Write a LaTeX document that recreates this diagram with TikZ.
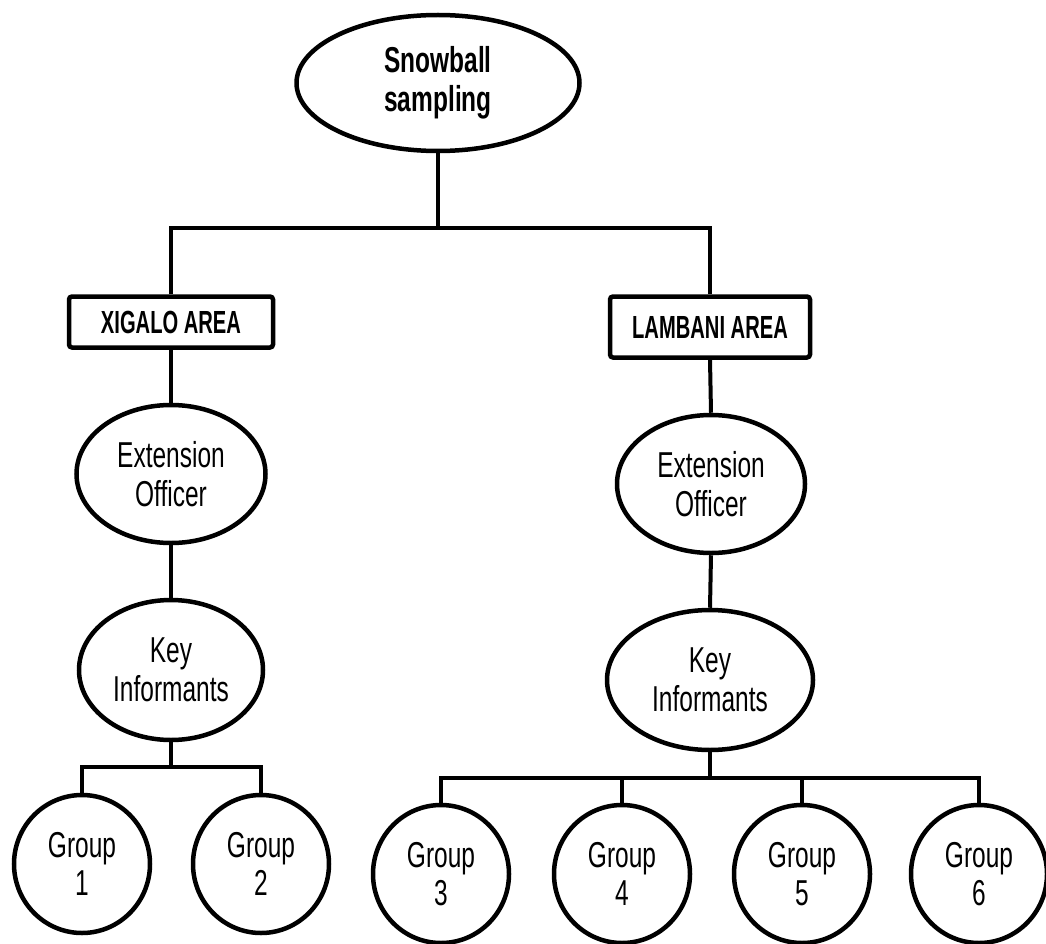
\documentclass[tikz,border=0pt]{standalone}
\usepackage{fontspec}
\setmainfont{Liberation Sans}[FakeStretch=0.68]
\newfontfamily\boxfont{Liberation Sans}[FakeStretch=0.63]
\usetikzlibrary{shapes.geometric}

\tikzset{
  conn/.style={line width=4pt},
  oval/.style={ellipse, draw, line width=4.5pt, align=center, inner sep=0pt,
    font=\fontsize{36}{38.5}\selectfont},
  areabox/.style={rectangle, draw, line width=4.5pt, rounded corners=3pt,
    inner sep=0pt, font=\boxfont\bfseries\fontsize{32}{36}\selectfont},
  grp/.style={oval, minimum width=136pt, minimum height=138pt}
}

\begin{document}
\begin{tikzpicture}[x=1pt, y=-1pt]
  \useasboundingbox (0,0) rectangle (1046,944);

  % root
  \node[oval, minimum width=283pt, minimum height=136pt,
        font=\bfseries\fontsize{36}{38.5}\selectfont] (snow) at (438,83) {Snowball\\sampling};

  % the two study areas
  \node[areabox, minimum width=204pt, minimum height=51pt] (xig) at (171,322) {XIGALO AREA};
  \node[areabox, minimum width=200pt, minimum height=61pt] (lam) at (710,327) {LAMBANI AREA};

  % Xigalo branch
  \node[oval, minimum width=189pt, minimum height=138pt] (ext1) at (171,474) {Extension\\Officer};
  \node[oval, minimum width=184pt, minimum height=140pt] (key1) at (171,670) {Key\\Informants};
  \node[grp] (g1) at (82,864) {Group\\1};
  \node[grp] (g2) at (261,864) {Group\\2};

  % Lambani branch
  \node[oval, minimum width=188pt, minimum height=138pt] (ext2) at (711,484) {Extension\\Officer};
  \node[oval, minimum width=206pt, minimum height=140pt] (key2) at (710,680) {Key\\Informants};
  \node[grp] (g3) at (441,874) {Group\\3};
  \node[grp] (g4) at (622,874) {Group\\4};
  \node[grp] (g5) at (802,874) {Group\\5};
  \node[grp] (g6) at (979,874) {Group\\6};

  % bus heights
  \coordinate (topbus) at (438,228);
  \coordinate (leftbus) at (171,767);
  \coordinate (rightbus) at (710,778);

  % root to areas
  \draw[conn] (snow.south) -- (topbus);
  \draw[conn] (xig.north) -- (xig.north |- topbus) -- (lam.north |- topbus) -- (lam.north);

  % vertical chains
  \draw[conn] (xig.south) -- (ext1.north);
  \draw[conn] (ext1.south) -- (key1.north);
  \draw[conn] (lam.south) -- (ext2.north);
  \draw[conn] (ext2.south) -- (key2.north);

  % Xigalo groups
  \draw[conn] (key1.south) -- (leftbus);
  \draw[conn] (g1.north) -- (g1.north |- leftbus) -- (g2.north |- leftbus) -- (g2.north);

  % Lambani groups
  \draw[conn] (key2.south) -- (rightbus);
  \draw[conn] (g3.north) -- (g3.north |- rightbus) -- (g6.north |- rightbus) -- (g6.north);
  \draw[conn] (g4.north) -- (g4.north |- rightbus);
  \draw[conn] (g5.north) -- (g5.north |- rightbus);
\end{tikzpicture}
\end{document}
